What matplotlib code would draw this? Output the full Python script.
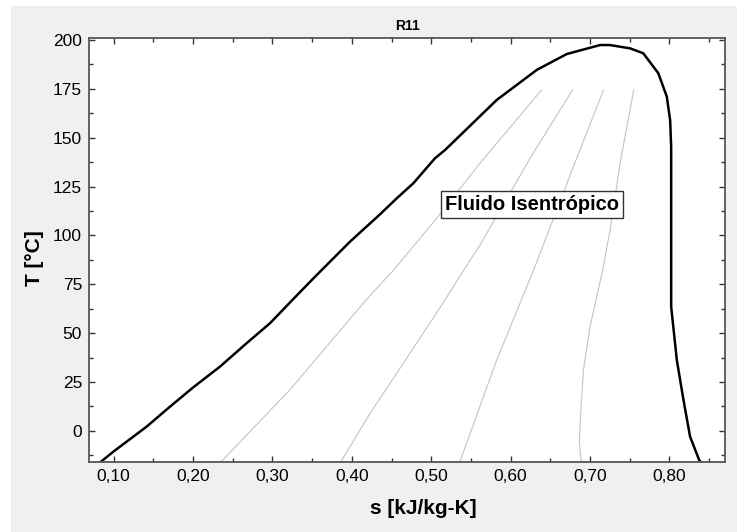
import matplotlib.pyplot as plt
from matplotlib.patches import Rectangle
from matplotlib.ticker import MultipleLocator, FuncFormatter

plt.rcParams['font.family'] = 'Liberation Sans'

# saturation dome (liquid side -> top -> vapour side)
s_sat = [0.0836, 0.100, 0.1416, 0.171, 0.2003, 0.234, 0.2676, 0.297, 0.324,
         0.3515, 0.3977, 0.4355, 0.4566, 0.4775, 0.5048, 0.5174, 0.5825,
         0.633, 0.6707, 0.7127, 0.725, 0.7505, 0.767, 0.786, 0.7967, 0.8009,
         0.8022, 0.8022, 0.8093, 0.8177, 0.826, 0.8374, 0.8392]
T_sat = [-15.9, -10.5, 2.2, 12.4, 22.3, 32.9, 44.9, 55.1, 66.5,
         78.0, 96.8, 110.8, 119.0, 126.7, 139.5, 143.7, 169.3,
         184.7, 192.8, 197.4, 197.4, 195.7, 193.2, 183.0, 171.0, 159.0,
         145.4, 63.6, 36.3, 15.9, -2.9, -14.8, -15.9]

# thin grey lines inside the dome
s_line1 = [0.235, 0.322, 0.418, 0.452, 0.507, 0.5615, 0.639]
T_line1 = [-15.9, 21.0, 67.0, 82.0, 108.8, 137.0, 174.4]
s_line2 = [0.386, 0.423, 0.4607, 0.5174, 0.5405, 0.5615, 0.6245, 0.678]
T_line2 = [-15.9, 9.0, 32.0, 67.0, 82.0, 95.1, 139.5, 174.4]
s_line3 = [0.536, 0.5825, 0.6287, 0.6832, 0.717]
T_line3 = [-15.9, 36.3, 82.0, 139.5, 174.4]
s_line4 = [0.689, 0.6866, 0.6875, 0.6917, 0.7001, 0.7157, 0.7253, 0.7379, 0.755]
T_line4 = [-15.9, -6.3, 3.9, 31.0, 53.4, 82.0, 102.8, 137.0, 174.4]

fig = plt.figure(figsize=(7.37, 5.32), dpi=100, facecolor='white')
fig.patches.append(Rectangle((11 / 737, 0), 1, 1 - 6 / 532,
                             transform=fig.transFigure, facecolor='#f0f0f0',
                             edgecolor='none', zorder=-10))
ax = fig.add_axes([89 / 737, 70 / 532, 636 / 737, 424 / 532])
ax.set_facecolor('white')

for s, T in [(s_line1, T_line1), (s_line2, T_line2),
             (s_line3, T_line3), (s_line4, T_line4)]:
    ax.plot(s, T, color='#c4c4c4', lw=0.8)
ax.plot(s_sat, T_sat, color='black', lw=1.8)

ax.text(0.6274, 116, 'Fluido Isentrópico', fontsize=14.5, fontweight='bold',
        ha='center', va='center',
        bbox=dict(boxstyle='square,pad=0.2', facecolor='white',
                  edgecolor='#333333', lw=1))

ax.set_xlim(0.069, 0.870)
ax.set_ylim(-15.9, 201)
ax.xaxis.set_major_locator(MultipleLocator(0.1))
ax.xaxis.set_minor_locator(MultipleLocator(0.05))
ax.yaxis.set_major_locator(MultipleLocator(25))
ax.yaxis.set_minor_locator(MultipleLocator(12.5))
ax.xaxis.set_major_formatter(FuncFormatter(lambda v, p: f'{v:.2f}'.replace('.', ',')))
ax.tick_params(which='both', direction='in', top=True, right=True,
               color='#333333', width=1)
ax.tick_params(which='major', length=4, labelsize=12.5, pad=5)
ax.tick_params(which='minor', length=3)
for sp in ax.spines.values():
    sp.set_color('#555555')
    sp.set_linewidth(1.3)

ax.set_title('R11', fontsize=10, fontweight='bold', pad=6)
ax.set_xlabel('s [kJ/kg-K]', fontsize=15, fontweight='bold')
ax.set_ylabel('T [°C]', fontsize=15, fontweight='bold')
ax.xaxis.set_label_coords(0.525, -0.088)
ax.yaxis.set_label_coords(-0.07, 0.481)

fig.savefig('out.png', dpi=100, facecolor=fig.get_facecolor())
